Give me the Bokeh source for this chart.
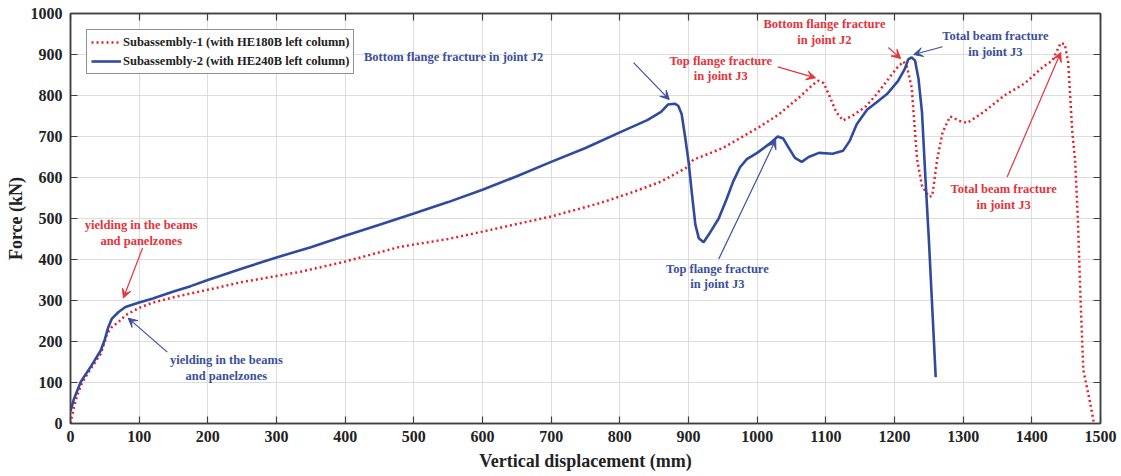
from bokeh.plotting import figure
from bokeh.models import (Range1d, SingleIntervalTicker, LinearAxis, Arrow, VeeHead,
                          Legend, LegendItem, ColumnDataSource)
from bokeh.core.properties import value
from bokeh.embed import file_html
from bokeh.resources import INLINE

# ---------------- data ----------------
sub1_x = [0, 5, 10, 17, 30, 44, 50, 53, 60, 73, 80, 100, 120, 150, 189, 250, 335, 400, 480,
          550, 600, 700, 772, 820, 860, 896, 907, 950, 1000, 1030, 1063, 1080, 1089, 1097,
          1105, 1115, 1125, 1140, 1158, 1175, 1194, 1205, 1213, 1218, 1225, 1233, 1240, 1250,
          1255, 1262, 1270, 1281, 1295, 1306, 1330, 1360, 1390, 1417, 1430, 1442, 1448, 1453,
          1459, 1463, 1467, 1471, 1475, 1480, 1485, 1490]
sub1_y = [0, 40, 70, 100, 135, 170, 200, 218, 235, 252, 264, 282, 295, 308, 322, 345, 370, 395,
          431, 450, 468, 505, 538, 565, 590, 623, 643, 672, 720, 752, 798, 825, 836, 830,
          800, 760, 739, 752, 773, 805, 847, 870, 883, 870, 820, 643, 580, 553,
          555, 643, 710, 749, 738, 733, 760, 800, 830, 871, 885, 928, 925, 880,
          709, 643, 500, 301, 130, 90, 50, 5]

sub2_x = [0, 5, 15, 30, 44, 50, 55, 60, 70, 80, 100, 120, 150, 175, 200, 250, 300, 350, 400,
          450, 500, 550, 600, 650, 700, 750, 800, 840, 860, 870, 880, 885, 890, 895, 900, 905,
          910, 915, 922, 930, 944, 955, 965, 975, 985, 1000, 1020, 1030, 1038, 1045, 1055,
          1065, 1075, 1090, 1110, 1125, 1135, 1145, 1160, 1175, 1190, 1205, 1215, 1220, 1225,
          1230, 1235, 1240, 1245, 1250, 1260]
sub2_y = [30, 60, 102, 140, 178, 205, 235, 255, 272, 284, 295, 305, 322, 335, 350, 378, 405,
          430, 458, 485, 512, 540, 570, 603, 638, 672, 710, 740, 760, 778, 780, 775, 755, 700,
          640, 560, 485, 452, 442, 462, 500, 545, 590, 625, 645, 660, 685, 700, 695, 675, 648,
          638, 650, 660, 658, 665, 690, 730, 765, 785, 805, 835, 865, 888, 893,
          885, 840, 760, 600, 450, 113]

series_names = ["Subassembly-1 (with HE180B left column)",
                "Subassembly-2 (with HE240B left column)"]

x_ticks_interval = 100
y_ticks_interval = 100

# annotations: (text lines, x, y of each line, color, arrow start, arrow end)
RED = "#e8202a"
BLUE = "#2f4a9e"
RED_T = "#e5333b"
BLUE_T = "#3b4f9c"
annotations = [
    (["Bottom flange fracture in joint J2"], 558, [895], BLUE_T, (820, 880), (872, 790)),
    (["Top flange fracture", "in joint J3"], 947, [885, 848], RED_T, (1030, 870), (1085, 843)),
    (["Bottom flange fracture", "in joint J2"], 1098, [975, 936], RED_T, (1191, 917), (1209, 890)),
    (["Total beam fracture", "in joint J3"], 1347, [944, 905], BLUE_T, (1270, 919), (1228, 900)),
    (["Total beam fracture", "in joint J3"], 1359, [572, 533], RED_T, (1364, 601), (1442, 905)),
    (["Top flange fracture", "in joint J3"], 942, [377, 340], BLUE_T, (944, 401), (1027, 692)),
    (["yielding in the beams", "and panelzones"], 103, [484, 445], RED_T, (105, 428), (77, 306)),
    (["yielding in the beams", "and panelzones"], 227, [154, 117], BLUE_T, (141, 174), (84, 257)),
]

FONT = "Liberation Serif"

p = figure(width=1121, height=476, output_backend="svg", toolbar_location=None,
           x_range=Range1d(0, 1500), y_range=Range1d(0, 1000),
           min_border_left=70, min_border_right=21, min_border_top=13, min_border_bottom=53)

p.background_fill_color = "white"
p.outline_line_color = "#404040"
p.outline_line_width = 1.5

for ax, tick, label in ((p.xaxis[0], x_ticks_interval, "Vertical displacement (mm)"),
                        (p.yaxis[0], y_ticks_interval, "Force (kN)")):
    ax.ticker = SingleIntervalTicker(interval=tick)
    ax.axis_label = label
    ax.axis_label_text_font = FONT
    ax.axis_label_text_font_style = "bold"
    ax.axis_label_text_font_size = "18px"
    ax.axis_label_text_color = "#222222"
    ax.major_label_text_font = FONT
    ax.major_label_text_font_style = "bold"
    ax.major_label_text_font_size = "16px"
    ax.major_label_text_color = "#222222"
    ax.major_tick_in = 7
    ax.major_tick_out = 0
    ax.minor_tick_in = 0
    ax.minor_tick_out = 0
    ax.axis_line_color = "#404040"
    ax.axis_line_width = 1.5
    ax.major_tick_line_color = "#404040"
    ax.major_tick_line_width = 1.2

p.xaxis[0].axis_label_standoff = 6
p.xaxis[0].major_label_standoff = 7
p.yaxis[0].axis_label_standoff = 2
p.yaxis[0].major_label_standoff = 8

for loc, tick in (("above", x_ticks_interval), ("right", y_ticks_interval)):
    ax = LinearAxis(ticker=SingleIntervalTicker(interval=tick))
    ax.major_label_text_font_size = "1px"
    ax.major_label_text_color = None
    ax.major_label_standoff = 0
    ax.major_tick_in = 7
    ax.major_tick_out = 0
    ax.minor_tick_in = 0
    ax.minor_tick_out = 0
    ax.axis_line_color = "#404040"
    ax.axis_line_width = 1.5
    ax.major_tick_line_color = "#404040"
    ax.major_tick_line_width = 1.2
    p.add_layout(ax, loc)

p.grid.grid_line_color = "#dddddd"
p.grid.grid_line_width = 1
p.xgrid.ticker = SingleIntervalTicker(interval=x_ticks_interval)
p.ygrid.ticker = SingleIntervalTicker(interval=y_ticks_interval)

r1 = p.line(sub1_x, sub1_y, line_color=RED, line_width=2.5, line_dash="2 3")
r2 = p.line(sub2_x, sub2_y, line_color=BLUE, line_width=2.6)

for lines, tx, tys, col, (xs, ys), (xe, ye) in annotations:
    src = ColumnDataSource(dict(x=[tx] * len(lines), y=tys, t=lines))
    p.text(x="x", y="y", text="t", source=src, text_font=value(FONT),
           text_font_style="bold", text_font_size="12.5px", text_color=col,
           text_align="center", text_baseline="middle")
    p.add_layout(Arrow(end=VeeHead(size=9, fill_color=col, line_color=col, line_width=1),
                       x_start=xs, y_start=ys, x_end=xe, y_end=ye,
                       line_color=col, line_width=1.2))

legend = Legend(items=[LegendItem(label=series_names[0], renderers=[r1]),
                       LegendItem(label=series_names[1], renderers=[r2])],
                location="top_left")
legend.margin = 16
legend.padding = 4
legend.spacing = 3
legend.label_text_font = FONT
legend.label_text_font_style = "bold"
legend.label_text_font_size = "12.5px"
legend.label_text_color = "#222222"
legend.label_height = 16
legend.glyph_height = 16
legend.glyph_width = 30
legend.label_standoff = 2
legend.border_line_color = "#222222"
legend.border_line_width = 1.2
legend.background_fill_alpha = 1
p.add_layout(legend, "center")

open("out.html", "w").write(file_html(p, INLINE))
